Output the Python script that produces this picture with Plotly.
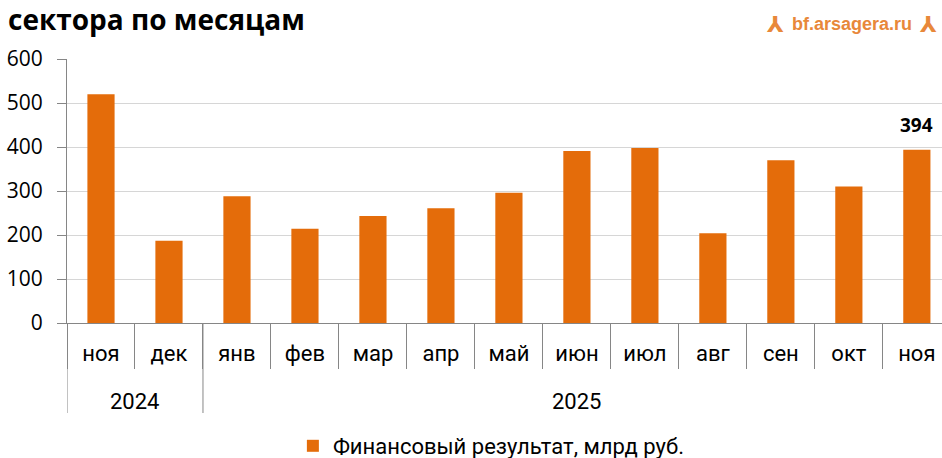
import plotly.graph_objects as go

years = ["2024", "2024", "2025", "2025", "2025", "2025", "2025", "2025", "2025", "2025", "2025", "2025", "2025"]
months = ["ноя", "дек", "янв", "фев", "мар", "апр", "май", "июн", "июл", "авг", "сен", "окт", "ноя"]
values = [520, 187, 288, 214, 243, 261, 296, 391, 398, 204, 370, 310, 394]
series_name = "Финансовый результат, млрд руб."
title_text = "сектора по месяцам"
logo_text = "bf.arsagera.ru"
y_ticks = [0, 100, 200, 300, 400, 500, 600]

ORANGE = "#E46C0A"
LOGO = "#E8883A"
AXIS = "#868686"
PLOT_W = 942 - 67
PLOT_H = 458 - 59 - 135

cats = [f"{y} {m}" for y, m in zip(years, months)]
n = len(cats)

fig = go.Figure()
fig.add_trace(go.Bar(
    x=cats, y=values, name=series_name,
    marker=dict(color=ORANGE, line=dict(width=0)),
    showlegend=True,
))
# invisible trace to activate the boundary-tick axis
fig.add_trace(go.Bar(x=cats, y=[None] * n, xaxis="x2", showlegend=False, hoverinfo="skip"))


def px_x(p):
    return (p - 67) / PLOT_W


def px_y(p):
    return (458 - 135 - p) / PLOT_H


annotations = [
    dict(text="<b>" + title_text + "</b>", xref="paper", yref="paper",
         x=px_x(6), y=px_y(19), xanchor="left", yanchor="middle",
         showarrow=False, font=dict(family="Open Sans, sans-serif", size=28, color="#000000")),
    dict(text="<b>" + logo_text + "</b>", xref="paper", yref="paper",
         x=px_x(852), y=px_y(24), xanchor="center", yanchor="middle",
         showarrow=False, font=dict(family="Liberation Sans, Arial, sans-serif", size=18, color=LOGO)),
    dict(text="<b>⅄</b>", xref="paper", yref="paper",
         x=px_x(775), y=px_y(24), xanchor="center", yanchor="middle",
         showarrow=False, font=dict(family="DejaVu Sans, sans-serif", size=22, color=LOGO)),
    dict(text="<b>⅄</b>", xref="paper", yref="paper",
         x=px_x(928), y=px_y(24), xanchor="center", yanchor="middle",
         showarrow=False, font=dict(family="DejaVu Sans, sans-serif", size=22, color=LOGO)),
    dict(text="<b>" + str(values[-1]) + "</b>", xref="x", yref="y",
         x=cats[-1], y=values[-1], xanchor="center", yanchor="bottom", yshift=10,
         showarrow=False, font=dict(family="Open Sans, sans-serif", size=19, color="#000000")),
]

# year group labels and dividers, from the data
shapes = []
groups = []
start = 0
for i in range(1, n + 1):
    if i == n or years[i] != years[start]:
        groups.append((years[start], start, i - 1))
        start = i
for yr, a, b in groups:
    annotations.append(dict(text=yr, xref="x", yref="paper", x=(a + b) / 2, y=px_y(401),
                            xanchor="center", yanchor="middle", showarrow=False,
                            font=dict(family="Roboto, sans-serif", size=22, color="#000000")))
    shapes.append(dict(type="line", xref="x", yref="paper", x0=a - 0.5, x1=a - 0.5,
                       y0=0, y1=px_y(413), line=dict(color=AXIS, width=1)))

fig.update_layout(
    width=942, height=458,
    margin=dict(l=67, r=0, t=59, b=135, autoexpand=False),
    paper_bgcolor="white", plot_bgcolor="white",
    bargap=0.6, barmode="overlay",
    showlegend=True,
    legend=dict(orientation="h", x=0.485, xanchor="center", y=px_y(446), yanchor="middle",
                font=dict(family="Roboto, sans-serif", size=22, color="#000000"),
                itemsizing="constant"),
    xaxis=dict(
        type="category", categoryorder="array", categoryarray=cats,
        range=[-0.5, n - 0.63], automargin=False,
        tickmode="array", tickvals=cats, ticktext=months,
        showline=True, linecolor=AXIS, linewidth=1,
        ticks="", ticklabelstandoff=11,
        tickfont=dict(family="Roboto, sans-serif", size=22, color="#000000"),
        showgrid=False, zeroline=False,
    ),
    xaxis2=dict(
        type="category", categoryorder="array", categoryarray=cats,
        overlaying="x", matches="x", anchor="y", side="bottom", automargin=False,
        ticks="outside", tickson="boundaries", ticklen=45, tickcolor=AXIS, tickwidth=1,
        showticklabels=False, showline=False, showgrid=False, zeroline=False,
    ),
    yaxis=dict(
        range=[0, 600], tickvals=y_ticks, automargin=False,
        showline=True, linecolor=AXIS, linewidth=1,
        ticks="outside", ticklen=9, tickcolor=AXIS, ticklabelstandoff=10,
        showgrid=True, gridcolor="#D6D6D6", gridwidth=1,
        zeroline=False,
        tickfont=dict(family="Open Sans, sans-serif", size=21, color="#000000"),
    ),
    annotations=annotations,
    shapes=shapes,
)

fig.write_html("out.html", config={"displayModeBar": False},
               post_script="document.body.style.margin='0px';")
